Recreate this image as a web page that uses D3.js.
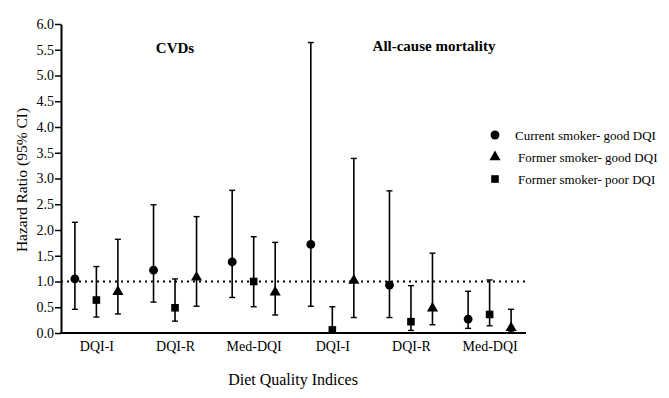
<!DOCTYPE html>
<html>
<head>
<meta charset="utf-8">
<script src="https://cdn.jsdelivr.net/npm/d3@7"></script>
<style>
  body { margin: 0; background: #fff; }
</style>
</head>
<body>
<div id="chart"></div>
<script>
// groups along the x axis (first three = CVDs, last three = all-cause mortality)
const groups = ["CVDs|DQI-I", "CVDs|DQI-R", "CVDs|Med-DQI", "ACM|DQI-I", "ACM|DQI-R", "ACM|Med-DQI"];
const tickLabels = ["DQI-I", "DQI-R", "Med-DQI", "DQI-I", "DQI-R", "Med-DQI"];
const panelTitles = ["CVDs", "All-cause mortality"];

// hazard ratio, lower CI, upper CI per group
const currentGood = [[1.05, 0.46, 2.15], [1.22, 0.60, 2.49], [1.38, 0.69, 2.77],
                     [1.72, 0.52, 5.64], [0.93, 0.30, 2.76], [0.27, 0.09, 0.81]];
const formerPoor  = [[0.64, 0.31, 1.29], [0.49, 0.23, 1.05], [1.00, 0.51, 1.87],
                     [0.06, 0.00, 0.51], [0.22, 0.05, 0.92], [0.36, 0.14, 1.03]];
const formerGood  = [[0.80, 0.37, 1.82], [1.08, 0.52, 2.26], [0.79, 0.35, 1.76],
                     [1.02, 0.30, 3.39], [0.48, 0.16, 1.55], [0.10, 0.02, 0.46]];

const seriesNames = ["Current smoker- good DQI", "Former smoker- good DQI", "Former smoker- poor DQI"];

const W = 669, H = 398;
const serif = "'Liberation Serif', 'Times New Roman', serif";
const svg = d3.select("#chart").append("svg").attr("width", W).attr("height", H);

const x = d3.scalePoint().domain(groups).range([61, 525]).padding(0.45);
const y = d3.scaleLinear().domain([0, 6]).range([333, 24]);

const series = [
  { name: seriesNames[0], data: currentGood, shape: d3.symbolCircle, size: 62, offset: -21.5 },
  { name: seriesNames[2], data: formerPoor, shape: d3.symbolSquare, size: 58, offset: 0 },
  { name: seriesNames[1], data: formerGood, shape: d3.symbolTriangle, size: 54, offset: 21.5 },
];

// reference line at HR = 1
svg.append("line")
  .attr("x1", 61).attr("x2", 527)
  .attr("y1", y(1)).attr("y2", y(1))
  .attr("stroke", "#000").attr("stroke-width", 2)
  .attr("stroke-dasharray", "2,4");

// error bars + markers
series.forEach((s) => {
  const g = svg.append("g");
  s.data.forEach((d, i) => {
    const cx = x(groups[i]) + s.offset;
    g.append("line")
      .attr("x1", cx).attr("x2", cx)
      .attr("y1", y(d[1])).attr("y2", y(d[2]))
      .attr("stroke", "#000").attr("stroke-width", 1.6);
    [d[1], d[2]].forEach((v) => {
      g.append("line")
        .attr("x1", cx - 3).attr("x2", cx + 3)
        .attr("y1", y(v)).attr("y2", y(v))
        .attr("stroke", "#000").attr("stroke-width", 1.4);
    });
    g.append("path")
      .attr("d", d3.symbol().type(s.shape).size(s.size)())
      .attr("transform", `translate(${cx},${y(d[0])})`)
      .attr("fill", "#000");
  });
});

// y axis
const yAxis = svg.append("g")
  .attr("transform", "translate(61,0)")
  .call(d3.axisLeft(y).tickValues(d3.range(0, 6.01, 0.5)).tickFormat(d3.format(".1f")).tickSize(6).tickSizeOuter(0));
yAxis.select(".domain").attr("stroke-width", 2);
yAxis.selectAll(".tick line").attr("stroke-width", 1.5);
yAxis.selectAll("text").attr("fill", "#000").attr("x", -7)
  .style("font-family", serif).style("font-size", "14px");

// x axis
const xAxis = svg.append("g")
  .attr("transform", `translate(0,${y(0)})`)
  .call(d3.axisBottom(x).tickSize(0).tickFormat((d, i) => tickLabels[i]));
xAxis.select(".domain").attr("d", "M60,0H526").attr("stroke-width", 2);
xAxis.selectAll("text").attr("fill", "#000").attr("dy", "1.1em")
  .style("font-family", serif).style("font-size", "14px");

// panel titles
svg.append("text").attr("x", 175).attr("y", 53).attr("text-anchor", "middle")
  .style("font-family", serif).style("font-weight", "bold").style("font-size", "15px").text(panelTitles[0]);
svg.append("text").attr("x", 434).attr("y", 51).attr("text-anchor", "middle")
  .style("font-family", serif).style("font-weight", "bold").style("font-size", "15px").text(panelTitles[1]);

// axis titles
svg.append("text").attr("transform", "translate(27,180) rotate(-90)")
  .attr("text-anchor", "middle").style("font-family", serif).style("font-size", "15.5px")
  .text("Hazard Ratio (95% CI)");
svg.append("text").attr("x", 293).attr("y", 385).attr("text-anchor", "middle")
  .style("font-family", serif).style("font-size", "16px").text("Diet Quality Indices");

// legend
const legendItems = [
  { shape: d3.symbolCircle, size: 62, label: seriesNames[0], tx: 515 },
  { shape: d3.symbolTriangle, size: 54, label: seriesNames[1], tx: 518 },
  { shape: d3.symbolSquare, size: 58, label: seriesNames[2], tx: 518 },
];
legendItems.forEach((it, i) => {
  const ly = 135 + i * 22;
  svg.append("path")
    .attr("d", d3.symbol().type(it.shape).size(it.size)())
    .attr("transform", `translate(495,${ly})`).attr("fill", "#000");
  svg.append("text").attr("x", it.tx).attr("y", ly + 4.5)
    .style("font-family", serif).style("font-size", "13px").text(it.label);
});
</script>
</body>
</html>
